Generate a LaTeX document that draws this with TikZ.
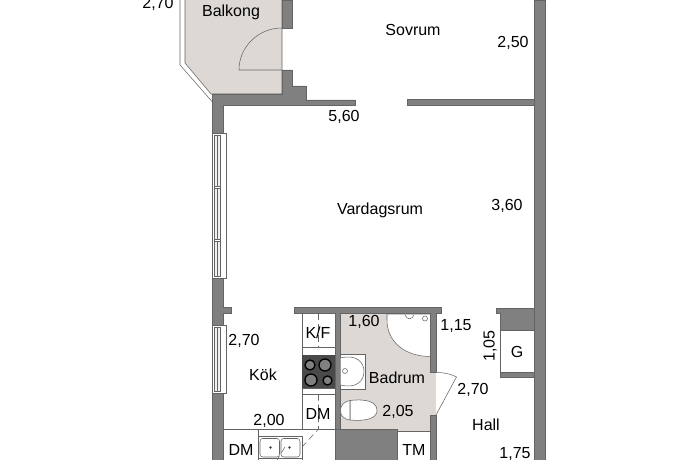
\documentclass[tikz,border=0pt]{standalone}
\usepackage{fontspec}
\setmainfont{Liberation Sans}
\definecolor{wallgray}{RGB}{128,128,128}
\definecolor{walledge}{RGB}{100,100,100}
\definecolor{bathfill}{RGB}{221,216,212}
\definecolor{hobgray}{RGB}{74,74,74}
\tikzset{every picture/.style={line width=0.75pt}}
\tikzset{
  wall/.style={fill=wallgray,draw=walledge,line width=0.4pt},
  thinline/.style={draw=walledge,line width=0.4pt},
  fixture/.style={fill=white,draw=walledge,line width=0.4pt},
  roomtext/.style={font=\fontsize{12}{14}\selectfont,text=black,inner sep=0pt},
  swing/.style={draw=walledge,line width=0.4pt,dash pattern=on 5pt off 3pt},
}

\begin{document}
\begin{tikzpicture}[x=0.75pt,y=0.75pt,yscale=-1,xscale=1]
	\useasboundingbox (0,0) rectangle (690,460);
	\clip (0,0) rectangle (690,460);

	%Shape: Balcony floor
	\fill [bathfill] (185,0) -- (282,0) -- (282,94) -- (211,94) -- (185,63) -- cycle ;
	%Straight Lines: Balcony rail
	\draw [thinline] (180,0) -- (180,65) -- (212,101.5) ;
	\draw [thinline] (185,0) -- (185,63) -- (211,94) -- (282,94) -- (282,0) ;
	%Door of the balcony
	\draw [thinline] (282,70) -- (239,70) arc (180:270:43 and 42) ;

	%Shape: Wall round the balcony door
	\draw [wall] (282,0) -- (292,0) -- (292,28) -- (282,28) -- cycle ;
	\draw [wall] (282,70) -- (292,70) -- (292,86) -- (306.5,86) -- (306.5,100) -- (355,100) -- (355,105.5) -- (223,105.5) -- (223,133) -- (212,133) -- (212,94) -- (282,94) -- cycle ;
	%Shape: Wall towards the bedroom
	\draw [wall] (407,99.5) -- (534,99.5) -- (534,105.5) -- (407,105.5) -- cycle ;
	%Shape: Right wall
	\draw [wall] (534,0) -- (545.5,0) -- (545.5,460) -- (534,460) -- cycle ;
	%Shape: Left wall
	\draw [wall] (212,278) -- (223,278) -- (223,307) -- (231,307) -- (231,313) -- (223,313) -- (223,325) -- (212,325) -- cycle ;
	\draw [wall] (212,393) -- (223,393) -- (223,460) -- (212,460) -- cycle ;

	%Shape: Windows
	\draw [thinline,fill=white] (212,133) rectangle (226,278) ;
	\draw [thinline,fill=black!6] (214.5,135) rectangle (220,276) ;
	\draw [thinline] (217,135) -- (217,276) ;
	\draw [thinline,fill=white] (214.5,186) rectangle (220,188) ;
	\draw [thinline,fill=white] (214.5,239.5) rectangle (220,241.5) ;
	\draw [thinline,fill=white] (212,325) rectangle (226,393) ;
	\draw [thinline,fill=black!6] (214.5,327) rectangle (220,391) ;
	\draw [thinline] (217,327) -- (217,391) ;

	%Shape: Bathroom floor
	\fill [bathfill] (340.5,314) rectangle (436,415) ;
	\fill [bathfill] (340.5,415) rectangle (431,431) ;
	\fill [white] (431,314) rectangle (436,372) ;

	%Shape: Top wall of kitchen and bathroom
	\draw [wall] (294,307.5) -- (441.5,307.5) -- (441.5,313.5) -- (436,313.5) -- (436,372.5) -- (430.5,372.5) -- (430.5,313.5) -- (340.5,313.5) -- (340.5,429) -- (335,429) -- (335,313.5) -- (294,313.5) -- cycle ;
	\draw [wall] (430.5,415) -- (436,415) -- (436,460) -- (430.5,460) -- cycle ;
	\draw [wall] (335,429) -- (397,429) -- (397,460) -- (335,460) -- cycle ;
	%Straight Lines: TM cupboard
	\draw [thinline] (397,431) -- (430.5,431) ;
	%Bathroom door
	\draw [thinline] (436,372.5) .. controls (444,372.5) and (451,374) .. (456.5,377) -- (436,415) ;

	%Shape: Wall of the G cupboard
	\draw [wall] (496,308) -- (534,308) -- (534,330) -- (500.5,330) -- (500.5,313.5) -- (496,313.5) -- cycle ;
	\draw [wall] (500.5,372) -- (534,372) -- (534,377.5) -- (500.5,377.5) -- cycle ;
	\draw [thinline] (500.5,330) -- (500.5,372) ;

	%Shape: Kitchen units
	\draw [thinline] (302,313.5) -- (302,429) ;
	\draw [thinline] (302,347) -- (335,347) ;
	\draw [thinline] (302,394) -- (335,394) ;
	\draw [thinline] (223,429) -- (335,429) ;
	\draw [thinline] (258,429) -- (258,460) ;
	\draw [thinline] (258,436.5) -- (302,436.5) -- (302,460) ;
	\draw [thinline] (258,458.5) -- (302,458.5) ;
	%Shape: Hob
	\fill [hobgray] (302,355) rectangle (335,388.5) ;
	\draw [thinline] (302,388.5) -- (335,388.5) ;
	\foreach \hx/\hy/\hr in {310/365/5,325/365/6,311/380/6,327.5/380.5/4.5}{
		\draw [black,fill=wallgray,line width=1pt] (\hx,\hy) circle [radius=\hr] ;
	}
	%Shape: Kitchen sink
	\draw [fixture,rounded corners=2pt] (260,438.5) rectangle (279.5,457) ;
	\draw [fixture,rounded corners=2pt] (281,438.5) rectangle (300,457) ;
	\fill [hobgray] (270.5,447.5) circle [radius=1.3] ;
	\fill [hobgray] (289.5,447.5) circle [radius=1.3] ;
	%Dashed door swing of the units
	\draw [swing] (318.5,313.5) -- (318.5,347) ;
	\draw [swing] (318.5,394) -- (318.5,429) -- (302,447) ;
	\draw [swing] (285,447) -- (277,460) ;

	%Shape: Basin
	\draw [fixture] (340.5,354) rectangle (365.5,389) ;
	\draw [fixture] (340.5,358) .. controls (356,354) and (364,362) .. (364,371.5) .. controls (364,381) and (356,389) .. (340.5,385) ;
	\draw [fixture] (345,371) circle [radius=2.5] ;
	%Shape: Toilet
	\draw [fixture] (350,400.5) .. controls (367,398.5) and (377,402) .. (377,410.5) .. controls (377,418) and (367,421.5) .. (350,420) -- cycle ;
	\draw [fixture] (350,400.5) .. controls (343,402) and (340.5,406) .. (340.5,410.5) .. controls (340.5,415) and (343,419) .. (350,420) -- cycle ;
	%Shape: Shower
	\draw [fixture] (387,314) -- (430.5,314) -- (430.5,356.5) .. controls (405,356.5) and (387,342) .. (387,320) -- cycle ;
	\draw [thinline] (425,318.5) circle [radius=2.5] ;
	\draw [thinline] (405,315) .. controls (407,320) and (412,320) .. (414,315) ;

	% Text Node
	\node [roomtext] (balcdim) at (158,3.5) {2,70};
	% Text Node
	\node [roomtext] (balkong) at (231,12.5) {Balkong};
	% Text Node
	\node [roomtext] (sovrum) at (413,30) {Sovrum};
	% Text Node
	\node [roomtext] (sovdim) at (513,43) {2,50};
	% Text Node
	\node [roomtext] (sovwidth) at (344,117) {5,60};
	% Text Node
	\node [roomtext] (vardagsrum) at (380,210) {Vardagsrum};
	% Text Node
	\node [roomtext] (varddim) at (507,206) {3,60};
	% Text Node
	\node [roomtext] (kokdim) at (244,341) {2,70};
	% Text Node
	\node [roomtext] (kok) at (263,375) {Kök};
	% Text Node
	\node [roomtext] (kokwidth) at (269,421) {2,00};
	% Text Node
	\node [roomtext] (dmleft) at (241,450) {DM};
	% Text Node
	\node [roomtext] (kf) at (318,333) {K/F};
	% Text Node
	\node [roomtext] (dmright) at (318,414) {DM};
	% Text Node
	\node [roomtext] (baddim) at (364,322) {1,60};
	% Text Node
	\node [roomtext] (hallshort) at (456,326) {1,15};
	% Text Node
	\node [roomtext,rotate=90] (gdim) at (490,346) {1,05};
	% Text Node
	\node [roomtext] (gbox) at (517,352) {G};
	% Text Node
	\node [roomtext] (badrum) at (397,378) {Badrum};
	% Text Node
	\node [roomtext] (badwidth) at (398,412) {2,05};
	% Text Node
	\node [roomtext] (halldim) at (473,390) {2,70};
	% Text Node
	\node [roomtext] (hall) at (486,425) {Hall};
	% Text Node
	\node [roomtext] (hallwidth) at (515,454) {1,75};
	% Text Node
	\node [roomtext] (tm) at (414,450) {TM};

\end{tikzpicture}
\end{document}
